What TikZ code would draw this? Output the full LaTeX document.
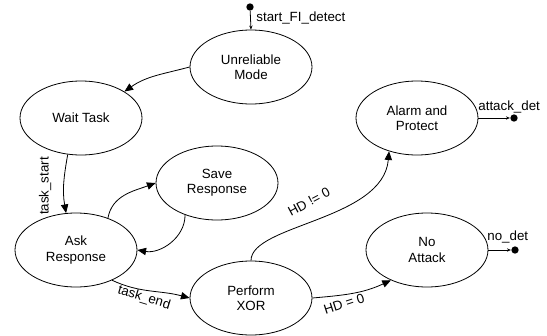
\documentclass[tikz,border=0pt]{standalone}
\usepackage{fontspec}
\setmainfont{Liberation Sans}
\usetikzlibrary{arrows.meta,shapes.geometric}

\tikzset{
  state/.style={draw, ellipse, minimum width=91.5pt, minimum height=55.5pt,
    inner sep=0pt, align=center, font=\fontsize{10}{11.5}\selectfont},
  dot/.style={fill, circle, inner sep=0pt, minimum size=5.5pt},
  trans/.style={-{Triangle[length=6.5pt,width=5.5pt]}},
  short/.style={-{Stealth[length=3pt,width=2.5pt]}},
  lbl/.style={font=\fontsize{10}{12}\selectfont, inner sep=0pt},
}

\begin{document}
\begin{tikzpicture}[x=0.75pt, y=-0.75pt, line width=0.6pt]
    \useasboundingbox (0,0) rectangle (547,336);

    % Draw the states
    \node[state] (um) at (251,67) {Unreliable\\Mode};
    \node[state] (wt) at (81,118) {Wait Task};
    \node[state] (sr) at (217,183) {Save\\Response};
    \node[state] (ar) at (76,250) {Ask\\Response};
    \node[state] (px) at (251,298) {Perform\\XOR};
    \node[state] (ap) at (417,118) {Alarm and\\Protect};
    \node[state] (na) at (427,250) {No\\Attack};

    % Entry and exit points
    \node[dot] (init) at (250,7) {};
    \node[dot] (apend) at (514,118) {};
    \node[dot] (naend) at (515,250) {};
    \draw[short] (init) -- (um.north);
    \draw[short] (ap.east) -- (apend);
    \draw[short] (na.east) -- (naend);
    \node[lbl, anchor=base west] (startlbl) at (256,21.5) {start\_FI\_detect};
    \node[lbl, anchor=base west] (aplbl) at (478,110) {attack\_det};
    \node[lbl, anchor=base west] (nalbl) at (487,240) {no\_det};

    % Transitions between the states
    \draw[trans] (um.west) to[out=195,in=35] (wt.north east);
    \draw[trans] (wt.250) to[out=260,in=100] (ar.105);
    \draw[trans] (ar.45) to[out=80,in=200] (sr.west);
    \draw[trans] (sr.225) to[out=270,in=-10] (ar.east);
    \draw[trans] (ar.320) to[out=-25,in=165] (px.west);
    \draw[trans] (px.north) .. controls +(0,-36) and +(-6,69) .. (ap.230);
    \draw[trans] (px.east) to[out=5,in=205] (na.220);

    % Transition labels
    \node[lbl, rotate=90] (tslbl) at (45,186) {task\_start};
    \node[lbl, rotate=-17] (telbl) at (144,298) {task\_end};
    \node[lbl, rotate=28] (nzlbl) at (309,202) {HD != 0};
    \node[lbl, rotate=18] (zlbl) at (344,304) {HD = 0};

\end{tikzpicture}
\end{document}
